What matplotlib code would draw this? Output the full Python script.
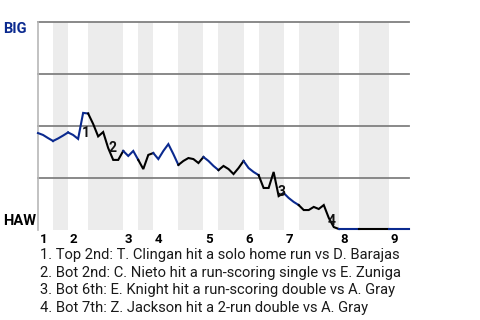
import matplotlib
matplotlib.use("Agg")
import matplotlib.pyplot as plt
import matplotlib.transforms as mtransforms

plt.rcParams['font.family'] = ['Roboto', 'DejaVu Sans']

# win probability for BIG after each plate appearance (0 = HAW wins, 1 = BIG wins)
win_prob = [0.466, 0.457, 0.442, 0.428, 0.440, 0.454, 0.469, 0.457, 0.438, 0.563,
            0.560, 0.510, 0.450, 0.471, 0.394, 0.337, 0.337, 0.380, 0.356, 0.380,
            0.337, 0.293, 0.361, 0.370, 0.341, 0.380, 0.413, 0.365, 0.313, 0.332,
            0.346, 0.341, 0.322, 0.351, 0.332, 0.308, 0.288, 0.308, 0.293, 0.269,
            0.298, 0.332, 0.298, 0.279, 0.264, 0.202, 0.202, 0.279, 0.163, 0.178,
            0.154, 0.135, 0.120, 0.096, 0.096, 0.111, 0.101, 0.120, 0.058, 0.014,
            0.005, 0.005, 0.005, 0.005, 0.005, 0.005, 0.005, 0.005, 0.005, 0.005,
            0.005, 0.005, 0.005, 0.005, 0.005]

# plate appearance index where each half inning starts/ends
half_bounds = [0, 3, 6, 10, 17, 20, 23, 28, 33, 36, 41, 44, 49, 52, 60, 64, 70, 74]
innings = ['1', '2', '3', '4', '5', '6', '7', '8', '9']

# key plays: (marker, plate appearance index)
events = [('1', 9), ('2', 14), ('3', 48), ('4', 59)]
event_text = [
    "1. Top 2nd: T. Clingan hit a solo home run vs D. Barajas",
    "2. Bot 2nd: C. Nieto hit a run-scoring single vs E. Zuniga",
    "3. Bot 6th: E. Knight hit a run-scoring double vs A. Gray",
    "4. Bot 7th: Z. Jackson hit a 2-run double vs A. Gray",
]

BLUE = '#0b2a8f'
half_colors = [BLUE, BLUE, BLUE, 'black', BLUE, 'black', BLUE, 'black', BLUE,
               'black', BLUE, 'black', BLUE, 'black', BLUE, 'black', BLUE]
event_offsets = [(3, -20), (4, 0), (3, 4), (-2, 6)]  # pixels

fig = plt.figure(figsize=(4.8, 3.2), dpi=100)
ax = fig.add_axes([38 / 480, 1 - 230 / 320, 371 / 480, 208 / 320])
ax.set_xlim(0, half_bounds[-1])
ax.set_ylim(0, 1)

# shaded bottom halves
for h in range(len(half_bounds) - 1):
    if h % 2 == 1:
        ax.axvspan(half_bounds[h], half_bounds[h + 1], color='#ececec', lw=0, zorder=0)

for yv in [0.25, 0.5, 0.75, 1.0]:
    ax.axhline(yv, color='#808080', lw=1.3, zorder=1, clip_on=False)

x = list(range(len(win_prob)))
for h in range(len(half_bounds) - 1):
    a, b = half_bounds[h], half_bounds[h + 1]
    ax.plot(x[a:b + 1], win_prob[a:b + 1], color=half_colors[h], lw=1.5,
            zorder=3, clip_on=False, solid_joinstyle='miter')

for (label, idx), (dx, dy) in zip(events, event_offsets):
    ax.annotate(label, xy=(idx, win_prob[idx]), xytext=(dx * 0.72, dy * 0.72),
                textcoords='offset points', ha='center', va='center',
                fontsize=10, fontweight='bold', color='#111111', zorder=4)

for s in ['top', 'right', 'bottom']:
    ax.spines[s].set_visible(False)
ax.spines['left'].set_color('#b8b8b8')
ax.spines['left'].set_linewidth(1.2)
ax.set_xticks([])
ax.set_yticks([])

# inning labels at the start of each inning
trans = mtransforms.blended_transform_factory(ax.transData, ax.transAxes)
for i, lab in enumerate(innings):
    ax.text(half_bounds[2 * i] + 0.3, -0.015, lab, transform=trans, ha='left', va='top',
            fontsize=9.5, fontweight='bold', color='black')

fig.text(3 / 480, 1 - 29 / 320, 'BIG', ha='left', va='center', fontsize=10.5,
         fontweight='bold', color=BLUE)
fig.text(3 / 480, 1 - 221 / 320, 'HAW', ha='left', va='center', fontsize=10.5,
         fontweight='bold', color='black')

for i, line in enumerate(event_text):
    fig.text(40 / 480, 1 - (259 + i * 17.7) / 320, line, ha='left', va='baseline',
             fontsize=10.6, color='#1a1a1a')

fig.savefig('out.png', dpi=100)
